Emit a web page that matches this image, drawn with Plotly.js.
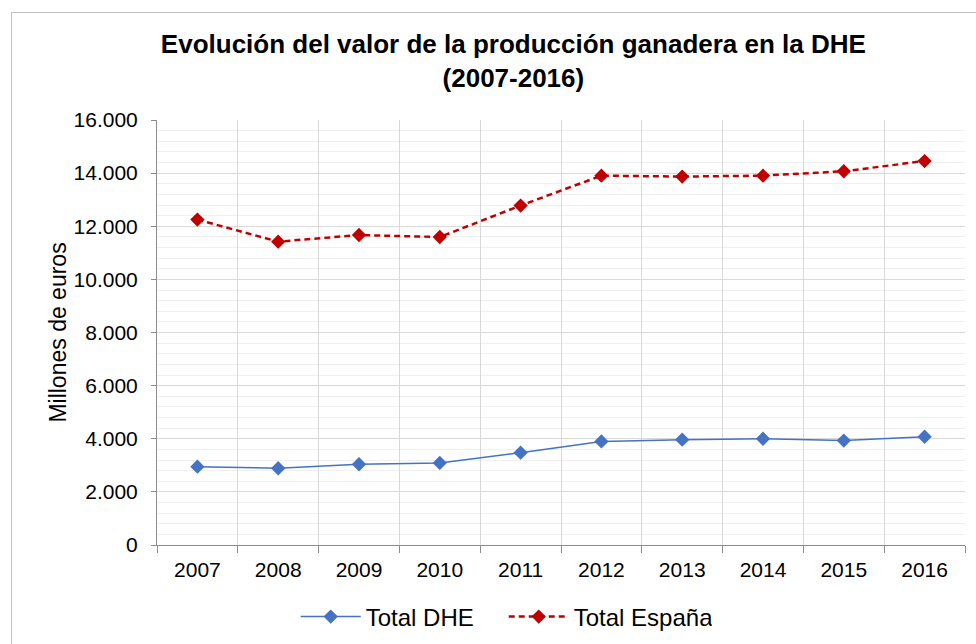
<!DOCTYPE html>
<html><head><meta charset="utf-8">
<script src="https://cdn.plot.ly/plotly-3.0.1.min.js"></script>
<style>
html,body{margin:0;padding:0;background:#fff;overflow:hidden;}
#frame{position:absolute;left:11px;top:12px;width:1100px;height:800px;border:1px solid #c0c0c0;pointer-events:none;}
#chart{position:absolute;left:0;top:0;width:976px;height:644px;}
</style></head>
<body>
<div id="chart"></div>
<div id="frame"></div>
<script>
const years = ["2007","2008","2009","2010","2011","2012","2013","2014","2015","2016"];
const totalDHE = [2950, 2890, 3040, 3090, 3475, 3900, 3965, 4000, 3930, 4075];
const totalEspana = [12250, 11420, 11670, 11595, 12780, 13905, 13870, 13905, 14070, 14455];
const yTicks = [0, 2000, 4000, 6000, 8000, 10000, 12000, 14000, 16000];

const font = "Liberation Sans, Arial, sans-serif";
const traces = [
  {x: years, y: totalDHE, name: "Total DHE", type: "scatter", mode: "lines+markers",
   line: {color: "#4472C4", width: 1.5},
   marker: {symbol: "diamond", size: 11, color: "#4472C4"}},
  {x: years, y: totalEspana, name: "Total España", type: "scatter", mode: "lines+markers",
   line: {color: "#C00000", width: 2.5, dash: "6px,4px"},
   marker: {symbol: "diamond", size: 11, color: "#C00000"}}
];
const layout = {
  width: 976, height: 644,
  margin: {l: 157, r: 11, t: 120, b: 99},
  paper_bgcolor: "#fff", plot_bgcolor: "#fff",
  separators: ",.",
  font: {family: font, size: 21, color: "#000"},
  title: {text: "<b>Evolución del valor de la producción ganadera en la DHE<br>(2007-2016)</b>",
    font: {family: font, size: 26, color: "#000"},
    x: 0.526, xref: "container", xanchor: "center", y: 0.917, yref: "container", yanchor: "middle"},
  xaxis: {type: "category", tickson: "boundaries", ticks: "outside", ticklen: 7, tickcolor: "#8c8c8c",
    showline: true, linecolor: "#8c8c8c", linewidth: 1,
    showgrid: true, gridcolor: "#d9d9d9", gridwidth: 1,
    tickfont: {family: font, size: 21, color: "#000"}, ticklabelstandoff: 6, range: [-0.5, 9.5], fixedrange: true},
  yaxis: {range: [0, 16000], tickvals: yTicks, tickformat: ",d", ticks: "outside", ticklen: 5, tickcolor: "#8c8c8c",
    showline: true, linecolor: "#8c8c8c", linewidth: 1, zeroline: false,
    showgrid: true, gridcolor: "#d9d9d9", gridwidth: 1,
    minor: {dtick: 400, showgrid: true, gridcolor: "#f0f0f0", gridwidth: 1, ticks: ""},
    tickfont: {family: font, size: 21, color: "#000"}, ticklabelstandoff: 9,
    title: {text: "Millones de euros", font: {family: font, size: 23, color: "#000"}, standoff: 0}},
  showlegend: true,
  legend: {orientation: "h", x: 0.303, xref: "container", xanchor: "left", y: 0.042, yref: "container", yanchor: "middle",
    font: {family: font, size: 24, color: "#000"}, itemwidth: 60, entrywidth: 133, entrywidthmode: "pixels", tracegroupgap: 0}
};
Plotly.newPlot("chart", traces, layout, {displayModeBar: false, staticPlot: true});
</script>
</body></html>
